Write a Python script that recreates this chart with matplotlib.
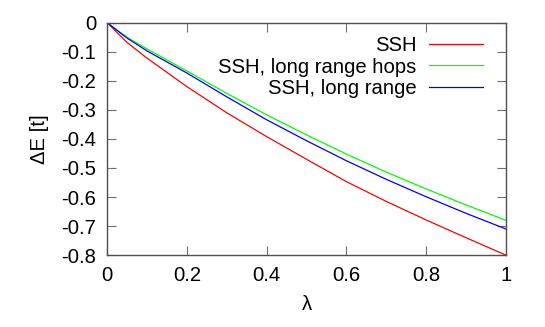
import numpy as np
import matplotlib
matplotlib.use("Agg")
import matplotlib.pyplot as plt

plt.rcParams["font.family"] = ["Liberation Sans", "DejaVu Sans"]
plt.rcParams["axes.unicode_minus"] = False

# values
lam = [0.0, 0.05, 0.1, 0.2, 0.3, 0.4, 0.5, 0.6, 0.7, 0.8, 0.9, 1.0]
ssh = [0.0, -0.068, -0.122, -0.220, -0.310, -0.392, -0.470, -0.547, -0.615, -0.679, -0.740, -0.800]
ssh_lr_hops = [0.0, -0.050, -0.090, -0.166, -0.243, -0.317, -0.386, -0.452, -0.514, -0.572, -0.627, -0.680]
ssh_lr = [0.0, -0.053, -0.097, -0.173, -0.255, -0.334, -0.406, -0.475, -0.539, -0.599, -0.656, -0.710]

labels = ["SSH", "SSH, long range hops", "SSH, long range"]
colours = ["#ff0000", "#00ff00", "#0000ff"]
FS = 14.6

fig = plt.figure(figsize=(5.45, 3.27), dpi=100)
ax = fig.add_axes([0.197, 0.220, 0.731, 0.710])

for ys, lab, col in zip([ssh, ssh_lr_hops, ssh_lr], labels, colours):
    ax.plot(lam, ys, color=col, lw=0.9, label=lab)

ax.set_xlim(0, 1)
ax.set_ylim(-0.8, 0)
ax.set_xticks([0, 0.2, 0.4, 0.6, 0.8, 1])
ax.set_xticklabels(["0", "0.2", "0.4", "0.6", "0.8", "1"])
ax.set_yticks(np.arange(-0.8, 0.01, 0.1))
ax.set_yticklabels(["-0.8", "-0.7", "-0.6", "-0.5", "-0.4", "-0.3", "-0.2", "-0.1", "0"])

for sp in ax.spines.values():
    sp.set_color("#505050")
    sp.set_linewidth(1.0)
ax.tick_params(direction="in", length=6.5, width=0.8, color="#707070",
               top=True, right=True, labelsize=FS, pad=8)

ax.set_xlabel("λ", fontsize=FS, labelpad=7)
ax.set_ylabel("ΔE [t]", fontsize=FS, labelpad=9)

leg = ax.legend(loc="upper right", bbox_to_anchor=(0.942, 0.944), frameon=False,
                markerfirst=False, fontsize=FS, handlelength=2.66,
                handletextpad=0.6, labelspacing=0.13, borderpad=0, borderaxespad=0)
for t in leg.get_texts():
    t.set_ha("right")

fig.savefig("out.png", dpi=100)
